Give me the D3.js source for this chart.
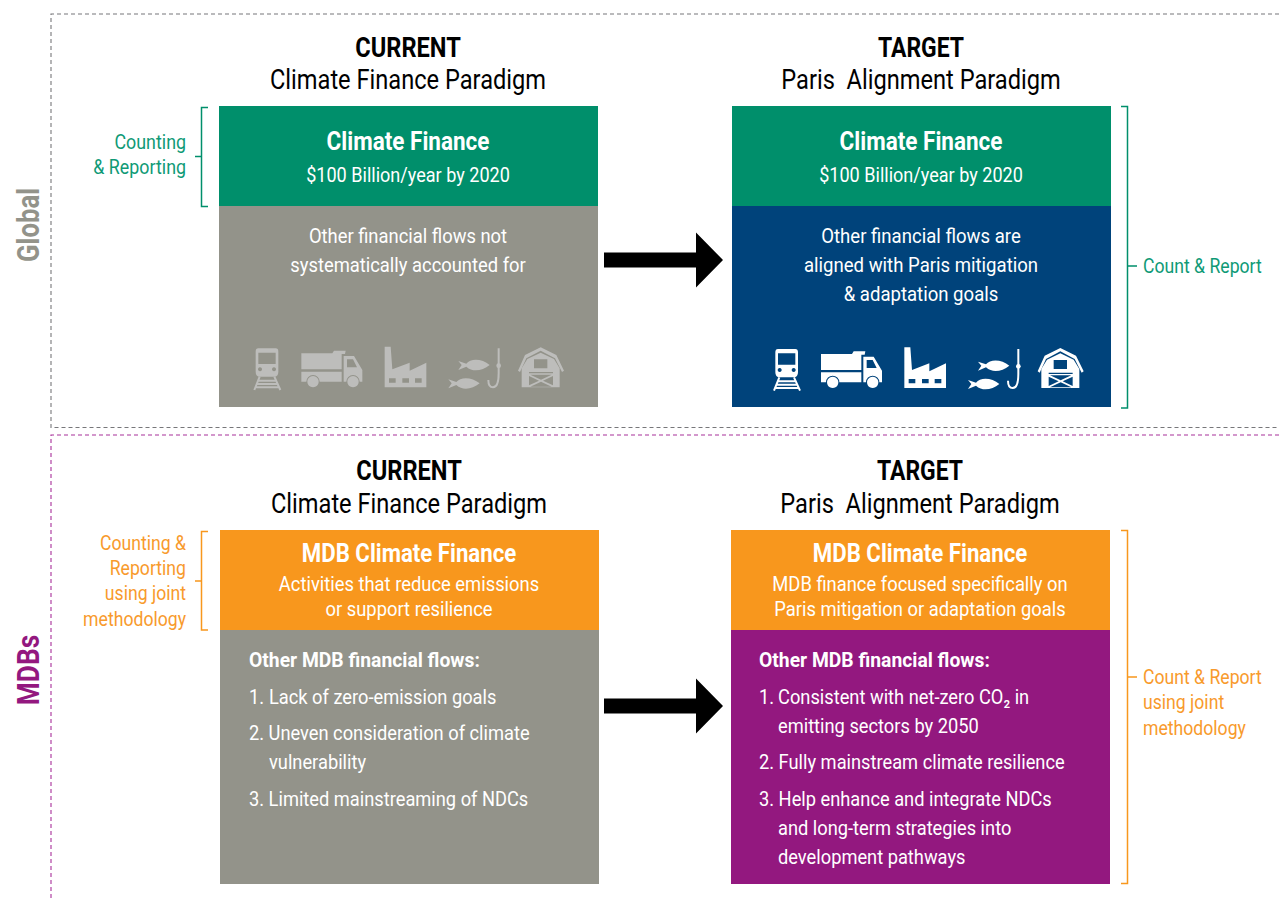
<!DOCTYPE html>
<html>
<head>
<meta charset="utf-8">
<script src="https://d3js.org/d3.v7.min.js"></script>
<style>
  html, body { margin: 0; padding: 0; background: #fff; }
  svg { display: block; }
  text { font-family: Roboto, sans-serif; }
</style>
</head>
<body>
<div id="chart-area"></div>
<script>
// Text content
var headerTop = ["CURRENT", "TARGET"];
var headerSub = ["Climate Finance Paradigm", "Paris  Alignment Paradigm"];
var globalTitle = "Climate Finance";
var globalSub = "$100 Billion/year by 2020";
var globalCurrentLines = ["Other financial flows not", "systematically accounted for"];
var globalTargetLines = ["Other financial flows are", "aligned with Paris mitigation", "& adaptation goals"];
var mdbTitle = "MDB Climate Finance";
var mdbCurrentSub = ["Activities that reduce emissions", "or support resilience"];
var mdbTargetSub = ["MDB finance focused specifically on", "Paris mitigation or adaptation goals"];
var flowsTitle = "Other MDB financial flows:";
var mdbCurrentList = ["1.", "Lack of zero-emission goals", "2. Uneven consideration of climate", "vulnerability", "3. Limited mainstreaming of NDCs"];
var mdbTargetList = ["1.", "Consistent with net-zero CO\u2082 in", "emitting sectors by 2050", "2. Fully mainstream climate resilience", "3. Help enhance and integrate NDCs", "and long-term strategies into", "development pathways"];
var leftGlobalLabel = ["Counting", "& Reporting"];
var leftMdbLabel = ["Counting &", "Reporting", "using joint", "methodology"];
var rightGlobalLabel = ["Count & Report"];
var rightMdbLabel = ["Count & Report", "using joint", "methodology"];

var green = "#008f6b", greenText = "#0f9a76", gray = "#93938a", blue = "#00437b",
    orange = "#f8971d", orangeText = "#f89a2c", purple = "#93187f";

var width = 1279;
var height = 901;

var svg = d3.select("#chart-area").append("svg")
  .attr("width", width)
  .attr("height", height);

// Condensed look: no condensed face is installed, so squeeze Roboto horizontally
function label(x, y, str, size, opts) {
  opts = opts || {};
  var t = svg.append("text")
    .attr("transform", "translate(" + x + "," + y + ") " + (opts.rotate ? "rotate(" + opts.rotate + ") " : "") + "scale(" + (opts.sx || 0.875) + ",1)")
    .attr("text-anchor", opts.anchor || "middle")
    .attr("font-size", size)
    .attr("font-weight", opts.weight || 400)
    .attr("fill", opts.fill || "#fff")
    .attr("xml:space", "preserve")
    .style("white-space", "pre")
    .text(str);
  return t;
}

function lines(x, ys, strs, size, opts) {
  strs.forEach(function(s, i) { label(x, ys[i], s, size, opts); });
}

function rect(x0, y0, x1, y1, fill) {
  svg.append("rect").attr("x", x0).attr("y", y0).attr("width", x1 - x0).attr("height", y1 - y0).attr("fill", fill);
}

function dashed(path, color) {
  svg.append("path").attr("d", path).attr("fill", "none").attr("stroke", color)
    .attr("stroke-width", 1.1).attr("stroke-dasharray", "4 3");
}

function bracket(xBar, xEnd, y0, y1, xTick0, xTick1, yTick, color) {
  var p = d3.path();
  p.moveTo(xEnd, y0); p.lineTo(xBar, y0); p.lineTo(xBar, y1); p.lineTo(xEnd, y1);
  p.moveTo(xTick0, yTick); p.lineTo(xTick1, yTick);
  svg.append("path").attr("d", p.toString()).attr("fill", "none").attr("stroke", color).attr("stroke-width", 1.5);
}

function arrow(cy) {
  var p = d3.path();
  p.moveTo(604, cy - 7.5); p.lineTo(696, cy - 7.5); p.lineTo(696, cy - 27.5); p.lineTo(723, cy);
  p.lineTo(696, cy + 27.5); p.lineTo(696, cy + 7.5); p.lineTo(604, cy + 7.5); p.closePath();
  svg.append("path").attr("d", p.toString()).attr("fill", "#000");
}

var iconFills = [
  // train
  "M118 55H170Q178 55 178 65V125Q178 140 165 140H123Q110 140 110 125V65Q110 55 118 55ZM118 68V102H170V68ZM123 112a6 6 0 1 0 .1 0ZM165 112a6 6 0 1 0 .1 0Z",
  // truck
  "M247 70H340L345 62H380L378 72H368V118H247ZM247 125H368V155H302A20 20 0 0 0 262 155H247ZM374 78H405L430 120V155H422A20 20 0 0 0 382 155H374ZM384 88V112H414L402 88Z",
  "M282 138a17 17 0 1 0 .1 0ZM402 138a17 17 0 1 0 .1 0Z",
  // factory
  "M497 172V50H515L520 118L572 98V122L622 98V172ZM510 145V158H530V145ZM550 145V158H570V145ZM588 145V158H608V145Z",
  // fish
  "M718 93L742 101C755 84 790 86 812 105C790 122 762 128 742 110L718 120L728 105Z",
  "M688 148L712 156C725 139 760 141 782 160C760 177 732 183 712 165L688 175L698 160Z",
  // barn
  "M897 122L918 75L965 52L1012 75L1035 122L1029 126L1008 85L965 62L922 85L903 126Z",
  "M908 172V115L925 87L965 68L1005 87L1022 115V172ZM945 88V115H985V88ZM934 134L966 149L998 134ZM934 170H998L966 155ZM930 138V166L960 152ZM1002 138V166L972 152ZM930 130H1002V126H930Z"
];
var iconStrokes = [
  // rails
  "M122 140L106 180M166 140L184 180M116 152H172M112 162H176M108 172H180",
  // hook
  "M839 55V130Q839 172 822 172Q808 172 808 150"
];

function icons(xOrigin, dx, dy, color) {
  var g = svg.append("g")
    .attr("transform", "translate(" + xOrigin + ",330) scale(" + (1 / 3) + ") translate(" + dx + "," + dy + ")");
  g.selectAll("path.fill").data(iconFills).enter().append("path")
    .attr("class", "fill").attr("d", function(d) { return d; })
    .attr("fill", color).attr("fill-rule", "evenodd");
  g.selectAll("path.line").data(iconStrokes).enter().append("path")
    .attr("class", "line").attr("d", function(d) { return d; })
    .attr("fill", "none").attr("stroke", color).attr("stroke-width", 6);
  g.append("circle").attr("cx", 839).attr("cy", 107).attr("r", 7).attr("fill", color);
}

// Section frames
dashed("M1279 14H51V427.5H1279", "#77777a");
dashed("M1279 435H51V901", "#a8309a");

// Panels
rect(219, 106, 598, 206, green);
rect(219, 206, 598, 407, gray);
rect(732, 106, 1111, 206, green);
rect(732, 206, 1111, 407, blue);
rect(220, 530, 599, 630, orange);
rect(220, 630, 599, 884, gray);
rect(731, 530, 1110, 630, orange);
rect(731, 630, 1110, 884, purple);

arrow(260);
arrow(706);

// Side labels
label(38.5, 225, "Global", 31, {rotate: -90, weight: 700, fill: gray, sx: 0.83});
label(39, 670, "MDBs", 31, {rotate: -90, weight: 700, fill: purple, sx: 0.85});

// Headers
label(408, 57, headerTop[0], 27, {weight: 700, fill: "#000"});
label(408, 89, headerSub[0], 27, {fill: "#000"});
label(921, 57, headerTop[1], 27, {weight: 700, fill: "#000", sx: 0.85});
label(921, 89, headerSub[1], 27, {fill: "#000"});
label(409, 480, headerTop[0], 27, {weight: 700, fill: "#000"});
label(409, 513, headerSub[0], 27, {fill: "#000"});
label(920, 480, headerTop[1], 27, {weight: 700, fill: "#000", sx: 0.85});
label(920, 513, headerSub[1], 27, {fill: "#000"});

// Global panels
label(408, 150, globalTitle, 26, {weight: 700, sx: 0.865});
label(408, 182, globalSub, 21, {sx: 0.86});
lines(408, [243, 272], globalCurrentLines, 21, {sx: 0.875});
label(921, 150, globalTitle, 26, {weight: 700, sx: 0.865});
label(921, 182, globalSub, 21, {sx: 0.86});
lines(921, [243, 272, 301], globalTargetLines, 21, {sx: 0.885});
icons(219, 0, 0, "#bdbdbb");
icons(732, 20, 2, "#fff");

// MDB panels
label(409, 561.5, mdbTitle, 26, {weight: 700, sx: 0.855});
lines(409, [591, 616], mdbCurrentSub, 21);
label(920, 561.5, mdbTitle, 26, {weight: 700, sx: 0.855});
lines(920, [591, 616], mdbTargetSub, 21);

var flowsStyle = {weight: 700, anchor: "start", sx: 0.92};
var listStyle = {anchor: "start", sx: 0.87};
label(249, 667, flowsTitle, 21, flowsStyle);
label(249, 704, mdbCurrentList[0], 21, listStyle);
label(269, 704, mdbCurrentList[1], 21, listStyle);
label(249, 740, mdbCurrentList[2], 21, listStyle);
label(269, 769, mdbCurrentList[3], 21, listStyle);
label(249, 806, mdbCurrentList[4], 21, listStyle);

label(759, 667, flowsTitle, 21, flowsStyle);
label(759, 704, mdbTargetList[0], 21, listStyle);
label(778, 704, mdbTargetList[1], 21, listStyle);
label(778, 733, mdbTargetList[2], 21, listStyle);
label(759, 769, mdbTargetList[3], 21, listStyle);
label(759, 806, mdbTargetList[4], 21, listStyle);
label(778, 835, mdbTargetList[5], 21, listStyle);
label(778, 864, mdbTargetList[6], 21, listStyle);

// Brackets and their captions
bracket(201.5, 208, 107.5, 206.5, 195, 201.5, 156.5, green);
bracket(1127.5, 1121, 106.5, 408, 1127.5, 1137, 266, green);
bracket(201.5, 208, 531.5, 630, 195, 201.5, 581, orange);
bracket(1127.5, 1121, 530.5, 883.5, 1127.5, 1137, 677, orange);

lines(186, [149, 174], leftGlobalLabel, 21, {anchor: "end", fill: greenText, sx: 0.85});
lines(186, [550, 575, 600, 626], leftMdbLabel, 21, {anchor: "end", fill: orangeText, sx: 0.84});
lines(1143, [273], rightGlobalLabel, 21, {anchor: "start", fill: greenText, sx: 0.84});
lines(1143, [684, 709, 735], rightMdbLabel, 21, {anchor: "start", fill: orangeText, sx: 0.84});
</script>
</body>
</html>
